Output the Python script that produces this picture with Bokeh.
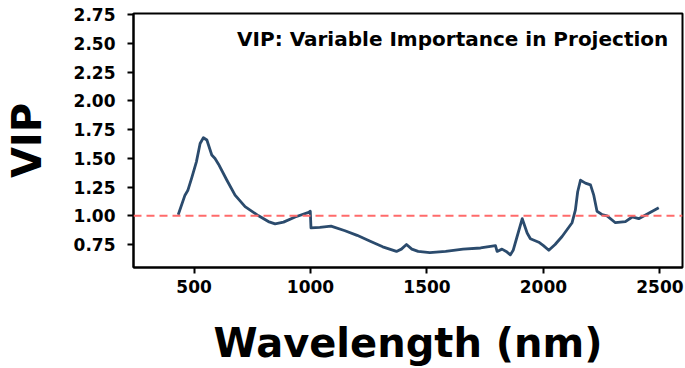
from bokeh.plotting import figure
from bokeh.models import Span, Label, FixedTicker, NumeralTickFormatter, Range1d
from bokeh.embed import file_html
from bokeh.resources import INLINE

wavelength = [432, 461, 473, 490, 510, 526, 540, 555, 576, 590, 605, 641, 676, 719, 777,
              819, 848, 884, 934, 992, 999, 1002, 1040, 1088, 1148, 1200, 1254, 1310, 1369,
              1390, 1412, 1435, 1462, 1512, 1580, 1655, 1730, 1794, 1801, 1822, 1840, 1858,
              1870, 1887, 1909, 1930, 1944, 1980, 2000, 2023, 2050, 2080, 2123, 2137, 2147,
              2159, 2180, 2202, 2216, 2230, 2252, 2273, 2309, 2352, 2381, 2409, 2450, 2495]
vip = [1.01, 1.18, 1.22, 1.33, 1.47, 1.63, 1.68, 1.66, 1.53, 1.50, 1.45, 1.31, 1.18, 1.08, 1.00,
       0.95, 0.93, 0.945, 0.99, 1.03, 1.04, 0.895, 0.90, 0.91, 0.87, 0.83, 0.78, 0.73, 0.69,
       0.71, 0.75, 0.71, 0.69, 0.68, 0.69, 0.71, 0.72, 0.74, 0.69, 0.71, 0.69, 0.66,
       0.70, 0.82, 0.975, 0.85, 0.80, 0.77, 0.74, 0.70, 0.75, 0.82, 0.94, 1.05, 1.21,
       1.31, 1.285, 1.27, 1.18, 1.04, 1.01, 1.00, 0.94, 0.95, 0.99, 0.975, 1.02, 1.07]

x_ticks = [500, 1000, 1500, 2000, 2500]
y_ticks = [0.75, 1.00, 1.25, 1.50, 1.75, 2.00, 2.25, 2.50, 2.75]
threshold = 1.0
title_text = "VIP: Variable Importance in Projection"
x_label = "Wavelength (nm)"
y_label = "VIP"

FONT = "DejaVu Sans"

p = figure(width=685, height=368, output_backend="svg", toolbar_location=None,
           x_range=Range1d(240, 2597), y_range=Range1d(0.55, 2.762),
           min_border_left=133, min_border_right=3, min_border_top=13, min_border_bottom=100)

p.xgrid.visible = False
p.ygrid.visible = False
p.outline_line_color = "black"
p.outline_line_width = 2
p.background_fill_color = "white"
p.border_fill_color = "white"

for ax in (p.xaxis[0], p.yaxis[0]):
    ax.axis_line_color = "black"
    ax.axis_line_width = 2
    ax.major_tick_line_color = "black"
    ax.major_tick_line_width = 2
    ax.major_tick_out = 6
    ax.major_tick_in = 0
    ax.minor_tick_line_color = None
    ax.major_label_text_font = FONT
    ax.major_label_text_font_style = "bold"
    ax.major_label_text_font_size = "17px"
    ax.major_label_text_color = "black"
    ax.axis_label_text_font = FONT
    ax.axis_label_text_font_style = "bold"
    ax.axis_label_text_font_size = "40px"
    ax.axis_label_text_color = "black"

p.xaxis.ticker = FixedTicker(ticks=x_ticks)
p.yaxis.ticker = FixedTicker(ticks=y_ticks)
p.yaxis.formatter = NumeralTickFormatter(format="0.00")
p.xaxis.axis_label = x_label
p.yaxis.axis_label = y_label
p.xaxis.major_label_standoff = 6
p.yaxis.major_label_standoff = 12
p.xaxis.axis_label_standoff = 24
p.yaxis.axis_label_standoff = 21

p.add_layout(Span(location=threshold, dimension="width", line_color="#ff6b6b",
                  line_width=2, line_dash="8 5"))

p.line(wavelength, vip, line_color="#2b4b6d", line_width=2.8, line_join="round")

p.add_layout(Label(x=2536, y=2.54, text=title_text, text_align="right",
                   text_baseline="alphabetic", text_font=FONT, text_font_style="bold",
                   text_font_size="20px", text_color="black"))

open("out.html", "w").write(file_html(p, INLINE))
